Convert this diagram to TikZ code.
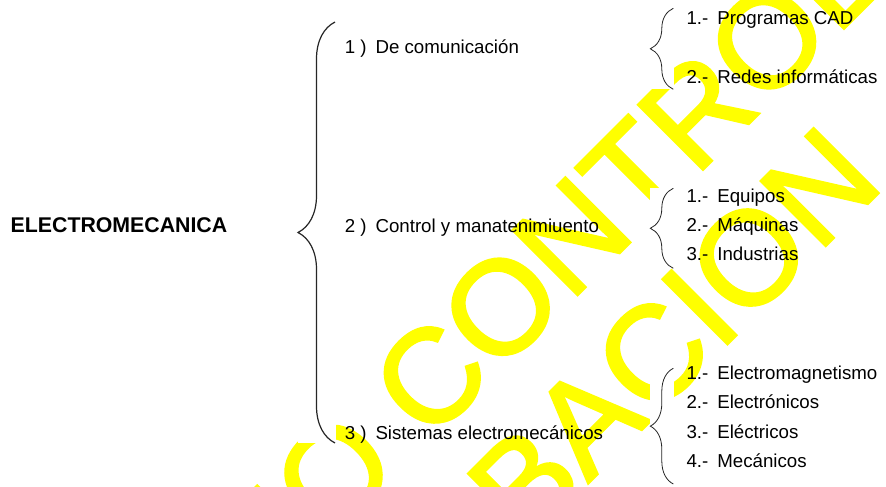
\documentclass[tikz,border=0pt]{standalone}
\usepackage{fontspec}
\setmainfont{Liberation Sans}
\newfontfamily\aguafont[FakeBold=2]{Liberation Sans}
\usetikzlibrary{decorations.pathreplacing}
\definecolor{amarillo}{RGB}{255,255,0}
\tikzset{
  texto/.style={anchor=base west, inner sep=0pt, font=\fontsize{18.7}{22}\selectfont},
  titulo/.style={anchor=base west, inner sep=0pt, font=\fontsize{21.3}{25}\selectfont\bfseries},
  llave/.style={decorate, decoration={brace, amplitude=#1}, draw=black!85},
  agua/.style={anchor=base west, inner sep=0pt, rotate=45, text=amarillo, font=\aguafont\fontsize{133}{140}\selectfont}
}
\begin{document}
\begin{tikzpicture}[x=1pt,y=1pt]
\path[use as bounding box, clip] (0,0) rectangle (886,487);
% marca de agua
\node[agua] (agua1) at (261.5,-123.9) {NO CONTROLADA};
\node[agua] (agua2) at (258.7,-325.7) {APROBACION};

% fondo blanco de las llaves
\fill[white] (298,44) rectangle (336,465);
\fill[white] (650,397.7) rectangle (673.5,478.7);
\fill[white] (650,218.7) rectangle (673.5,298.7);
\fill[white] (650,3) rectangle (673.5,118.7);

% llaves
\draw[llave=37pt, line width=1.2pt] (335,44) -- (335,465);
\draw[llave=23pt, line width=0.8pt] (673.3,397.7) -- (673.3,478.7);
\draw[llave=23pt, line width=0.8pt] (673.3,218.7) -- (673.3,298.7);
\draw[llave=23pt, line width=0.8pt] (673.3,3) -- (673.3,118.7);

% textos
\node[titulo] (raiz) at (10.5,254.7) {ELECTROMECANICA};
\node[texto] (rama1) at (344.7,433) {1 )\hspace{8.8pt}De comunicación};
\node[texto] (rama2) at (344.7,254.7) {2 )\hspace{8.8pt}Control y manatenimiuento};
\node[texto] (rama3) at (344.7,47.7) {3 )\hspace{8.8pt}Sistemas electromecánicos};

\node[texto] (h11) at (686.3,462) {1.-\hspace{9pt}Programas CAD};
\node[texto] (h12) at (686.3,403.7) {2.-\hspace{9pt}Redes informáticas};

\node[texto] (h21) at (686.3,284.7) {1.-\hspace{9pt}Equipos};
\node[texto] (h22) at (686.3,255.3) {2.-\hspace{9pt}Máquinas};
\node[texto] (h23) at (686.3,226) {3.-\hspace{9pt}Industrias};

\node[texto] (h31) at (686.3,107.7) {1.-\hspace{9pt}Electromagnetismo};
\node[texto] (h32) at (686.3,78) {2.-\hspace{9pt}Electrónicos};
\node[texto] (h33) at (686.3,48.7) {3.-\hspace{9pt}Eléctricos};
\node[texto] (h34) at (686.3,19.3) {4.-\hspace{9pt}Mecánicos};
\end{tikzpicture}
\end{document}
